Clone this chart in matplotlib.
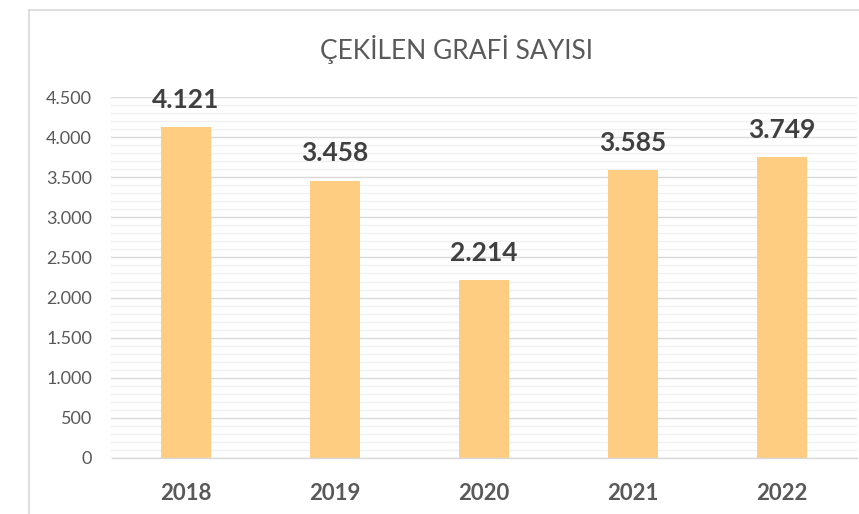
import matplotlib
matplotlib.use("Agg")
import matplotlib.pyplot as plt
from matplotlib.lines import Line2D
from matplotlib.ticker import MultipleLocator, FuncFormatter

years = ["2018", "2019", "2020", "2021", "2022"]
values = [4121, 3458, 2214, 3585, 3749]
value_labels = ["4.121", "3.458", "2.214", "3.585", "3.749"]
title = "ÇEKİLEN GRAFİ SAYISI"

plt.rcParams['font.family'] = ['Lato', 'DejaVu Sans']

fig = plt.figure(figsize=(8.59, 5.14), dpi=100)
W, H = 859, 514
ax = fig.add_axes([111.5 / W, 56 / H, 745 / W, 361 / H])

x = range(len(years))
ax.bar(x, values, width=0.335, color='#FFCD82', zorder=3)
ax.set_xlim(-0.5, len(years) - 0.5)
ax.set_ylim(0, 4500)

ax.yaxis.set_major_locator(MultipleLocator(500))
ax.yaxis.set_minor_locator(MultipleLocator(100))
ax.grid(axis='y', which='major', color='#d9d9d9', linewidth=1.0, zorder=0)
ax.grid(axis='y', which='minor', color='#f0f0f0', linewidth=1.0, zorder=0)
ax.yaxis.set_major_formatter(FuncFormatter(lambda v, p: f"{int(v):,}".replace(",", ".")))

for s in ['top', 'right', 'left']:
    ax.spines[s].set_visible(False)
ax.spines['bottom'].set_color('#d9d9d9')
ax.spines['bottom'].set_linewidth(1.0)
ax.spines['bottom'].set_zorder(4)

ax.tick_params(axis='y', which='both', length=0, labelsize=13, labelcolor='#595959', pad=14)
ax.tick_params(axis='x', length=0, labelsize=16, labelcolor='#595959', pad=18)
ax.set_xticks(list(x))
ax.set_xticklabels(years, fontweight='bold')

for i, (v, lab) in enumerate(zip(values, value_labels)):
    ax.annotate(lab, (i, v), xytext=(0, 11), textcoords='offset points',
                ha='center', va='bottom', fontsize=19, fontweight='bold', color='#404040')

fig.text(456 / W, 1 - 50 / H, title, ha='center', va='center', fontsize=19,
         color='#595959')

fig.add_artist(Line2D([28.5 / W, 28.5 / W], [0, 1 - 9.5 / H], color='#d9d9d9', lw=1.2, transform=fig.transFigure))
fig.add_artist(Line2D([28.5 / W, 1], [1 - 9.5 / H, 1 - 9.5 / H], color='#d9d9d9', lw=1.2, transform=fig.transFigure))

fig.savefig("out.png", dpi=100)
